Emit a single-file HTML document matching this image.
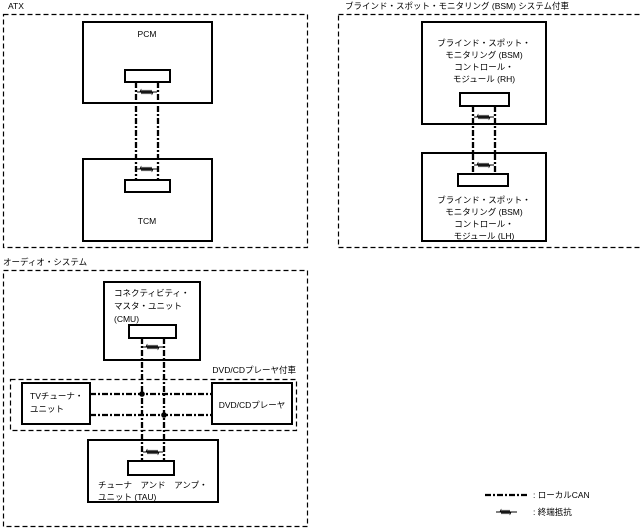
<!DOCTYPE html>
<html><head><meta charset="utf-8"><style>
html,body{margin:0;padding:0;background:#fff;}
svg{display:block;}
text{font-family:"Liberation Sans","Noto Sans CJK JP",sans-serif;font-size:8.5px;fill:#000;}
.dash{fill:none;stroke:#000;stroke-width:1.2;stroke-dasharray:5,3;}
.box{fill:#fff;stroke:#000;stroke-width:2;}
.can{fill:none;stroke:#000;stroke-width:2.3;stroke-dasharray:6,2,2,2;}
.r{fill:none;stroke:#000;stroke-width:1;}
</style></head><body>
<svg width="642" height="530" viewBox="0 0 642 530" xmlns="http://www.w3.org/2000/svg">
<!-- ATX -->
<text x="8" y="9">ATX</text>
<rect class="dash" x="3.5" y="14.5" width="304" height="233"/>
<rect class="box" x="83" y="22" width="129" height="81"/>
<text x="147" y="37" text-anchor="middle">PCM</text>
<rect class="box" x="83" y="159" width="129" height="82"/>
<text x="147" y="224" text-anchor="middle">TCM</text>
<line class="can" x1="136" y1="82" x2="136" y2="180"/>
<line class="can" x1="158" y1="82" x2="158" y2="180"/>
<rect class="box" x="125" y="70" width="45" height="12"/>
<rect class="box" x="125" y="180" width="45" height="12"/>
<g class="r"><line x1="137" y1="92" x2="157" y2="92"/><polyline points="140,92 141,90 142,94 143,90 144,94 145,90 146,94 147,90 148,94 149,90 150,94 151,90 152,94 153,92"/></g>
<g class="r"><line x1="137" y1="169" x2="157" y2="169"/><polyline points="140,169 141,167 142,171 143,167 144,171 145,167 146,171 147,167 148,171 149,167 150,171 151,167 152,171 153,169"/></g>

<!-- BSM -->
<text x="345" y="9">ブラインド・スポット・モニタリング (BSM) システム付車</text>
<rect class="dash" x="338.5" y="14.5" width="306" height="233"/>
<rect class="box" x="422" y="22" width="124" height="102"/>
<text x="484" y="46" text-anchor="middle">ブラインド・スポット・</text>
<text x="484" y="58" text-anchor="middle">モニタリング (BSM)</text>
<text x="484" y="70" text-anchor="middle">コントロール・</text>
<text x="484" y="82" text-anchor="middle">モジュール (RH)</text>
<rect class="box" x="422" y="153" width="124" height="88"/>
<text x="484" y="203" text-anchor="middle">ブラインド・スポット・</text>
<text x="484" y="215" text-anchor="middle">モニタリング (BSM)</text>
<text x="484" y="227" text-anchor="middle">コントロール・</text>
<text x="484" y="239" text-anchor="middle">モジュール (LH)</text>
<line class="can" x1="473" y1="106" x2="473" y2="174"/>
<line class="can" x1="495" y1="106" x2="495" y2="174"/>
<rect class="box" x="460" y="93" width="49" height="13"/>
<rect class="box" x="458" y="174" width="50" height="12"/>
<g class="r"><line x1="474" y1="117" x2="494" y2="117"/><polyline points="477,117 478,115 479,119 480,115 481,119 482,115 483,119 484,115 485,119 486,115 487,119 488,115 489,119 490,117"/></g>
<g class="r"><line x1="474" y1="165" x2="494" y2="165"/><polyline points="477,165 478,163 479,167 480,163 481,167 482,163 483,167 484,163 485,167 486,163 487,167 488,163 489,167 490,165"/></g>

<!-- Audio -->
<text x="3" y="265">オーディオ・システム</text>
<rect class="dash" x="3.5" y="270.5" width="304" height="256"/>
<rect class="box" x="104" y="282" width="96" height="78"/>
<text x="114" y="296">コネクティビティ・</text>
<text x="114" y="309">マスタ・ユニット</text>
<text x="114" y="322">(CMU)</text>
<text x="296" y="373" text-anchor="end">DVD/CDプレーヤ付車</text>
<rect class="dash" x="10.5" y="379.5" width="286" height="51"/>
<rect class="box" x="22" y="383" width="68" height="41"/>
<text x="30" y="399">TVチューナ・</text>
<text x="30" y="412">ユニット</text>
<rect class="box" x="212" y="383" width="80" height="41"/>
<text x="252" y="408" text-anchor="middle">DVD/CDプレーヤ</text>
<rect class="box" x="88" y="440" width="130" height="62"/>
<text x="98" y="488">チューナ　アンド　アンプ・</text>
<text x="98" y="500">ユニット (TAU)</text>
<line class="can" x1="142" y1="338" x2="142" y2="461"/>
<line class="can" x1="164" y1="338" x2="164" y2="461"/>
<line class="can" x1="90" y1="394" x2="212" y2="394"/>
<line class="can" x1="90" y1="415" x2="212" y2="415"/>
<circle cx="142" cy="394" r="2.8"/>
<circle cx="164" cy="415" r="2.8"/>
<rect class="box" x="129" y="325" width="47" height="13"/>
<rect class="box" x="128" y="461" width="46" height="14"/>
<g class="r"><line x1="143" y1="347" x2="163" y2="347"/><polyline points="146,347 147,345 148,349 149,345 150,349 151,345 152,349 153,345 154,349 155,345 156,349 157,345 158,349 159,347"/></g>
<g class="r"><line x1="143" y1="452" x2="163" y2="452"/><polyline points="146,452 147,450 148,454 149,450 150,454 151,450 152,454 153,450 154,454 155,450 156,454 157,450 158,454 159,452"/></g>

<!-- Legend -->
<line class="can" x1="485" y1="495" x2="527" y2="495"/>
<text x="533" y="498">:  ローカルCAN</text>
<g class="r"><line x1="496" y1="512" x2="517" y2="512"/><polyline points="500,512 501,510 502,514 503,510 504,514 505,510 506,514 507,510 508,514 509,510 510,514 511,512"/></g>
<text x="533" y="515">:  終端抵抗</text>
</svg>
</body></html>
